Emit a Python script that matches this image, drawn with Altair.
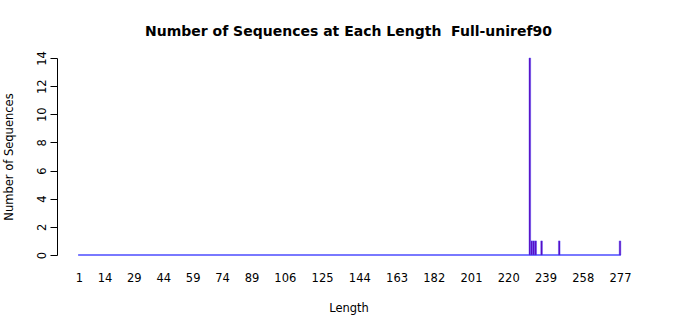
import altair as alt
import pandas as pd

# Sequence lengths that have at least one sequence, and their counts
lengths = [231, 232, 233, 234, 237, 246, 277]
counts = [14, 1, 1, 1, 1, 1, 1]
min_length = 1
max_length = 277
x_tick_labels = [1, 14, 29, 44, 59, 74, 89, 106, 125, 144, 163, 182, 201, 220, 239, 258, 277]
y_ticks = [0, 2, 4, 6, 8, 10, 12, 14]
title_text = "Number of Sequences at Each Length\u00a0\u00a0Full-uniref90"

half = 0.5 / 1.2  # bar half-width (bar width 1, space 0.2)

bars_df = pd.DataFrame({"length": lengths, "count": counts})
base_df = pd.DataFrame({"start": [min_length], "end": [max_length]})

FONT = "DejaVu Sans"
FILL = "#5c00b8"
STROKE = "#4d4dff"

xscale = alt.Scale(domain=[-10.2, 287.2], nice=False, zero=False)
yscale = alt.Scale(domain=[0, 14], nice=False)

baseline = alt.Chart(base_df).transform_calculate(
    s=f"datum.start - {half}", e=f"datum.end + {half}", z="0"
).mark_rule(color=STROKE, strokeWidth=1.5).encode(
    x=alt.X("s:Q", scale=xscale,
            axis=alt.Axis(values=x_tick_labels, tickCount=40, format="d", title="Length",
                          domain=False, ticks=False, grid=False, labelPadding=17,
                          labelFontSize=11.5, labelFont=FONT, labelColor="black",
                          titleFont=FONT, titleFontSize=11.5, titleFontWeight="normal",
                          titleColor="black", titlePadding=19, labelFlush=False,
                          labelOverlap=False)),
    x2="e:Q",
    y=alt.Y("z:Q", scale=yscale),
)

bars = alt.Chart(bars_df).transform_calculate(
    x0=f"datum.length - {half}", x1=f"datum.length + {half}"
).mark_rect(fill=FILL, stroke=STROKE, strokeWidth=0.45).encode(
    x=alt.X("x0:Q", scale=xscale),
    x2="x1:Q",
    y=alt.Y("count:Q", scale=yscale,
            axis=alt.Axis(values=y_ticks, tickCount=40, format="d",
                          title="Number of Sequences",
                          grid=False, domainColor="black", tickColor="black", tickSize=7,
                          labelAngle=270, labelAlign="center", labelBaseline="bottom",
                          labelPadding=3, labelFontSize=11.5, labelFont=FONT,
                          labelColor="black", titleFont=FONT, titleFontSize=11.5,
                          titleFontWeight="normal", titleColor="black", titlePadding=22,
                          labelOverlap=False, labelFlush=False)),
    y2=alt.datum(0),
)

chart = alt.layer(baseline, bars).properties(
    width=583,
    height=197,
    title=alt.TitleParams(title_text,
                          font=FONT, fontSize=14, fontWeight="bold", color="black",
                          anchor="middle", offset=12, frame="group"),
    padding={"left": 57, "top": 58, "right": 60, "bottom": 60},
    autosize=alt.AutoSizeParams(type="none"),
).configure(
    background="white",
    view=alt.ViewConfig(stroke="transparent", strokeWidth=0),
    axis=alt.AxisConfig(labelOverlap=False),
)

chart.save("out.html", embed_options={"renderer": "svg", "actions": False})
